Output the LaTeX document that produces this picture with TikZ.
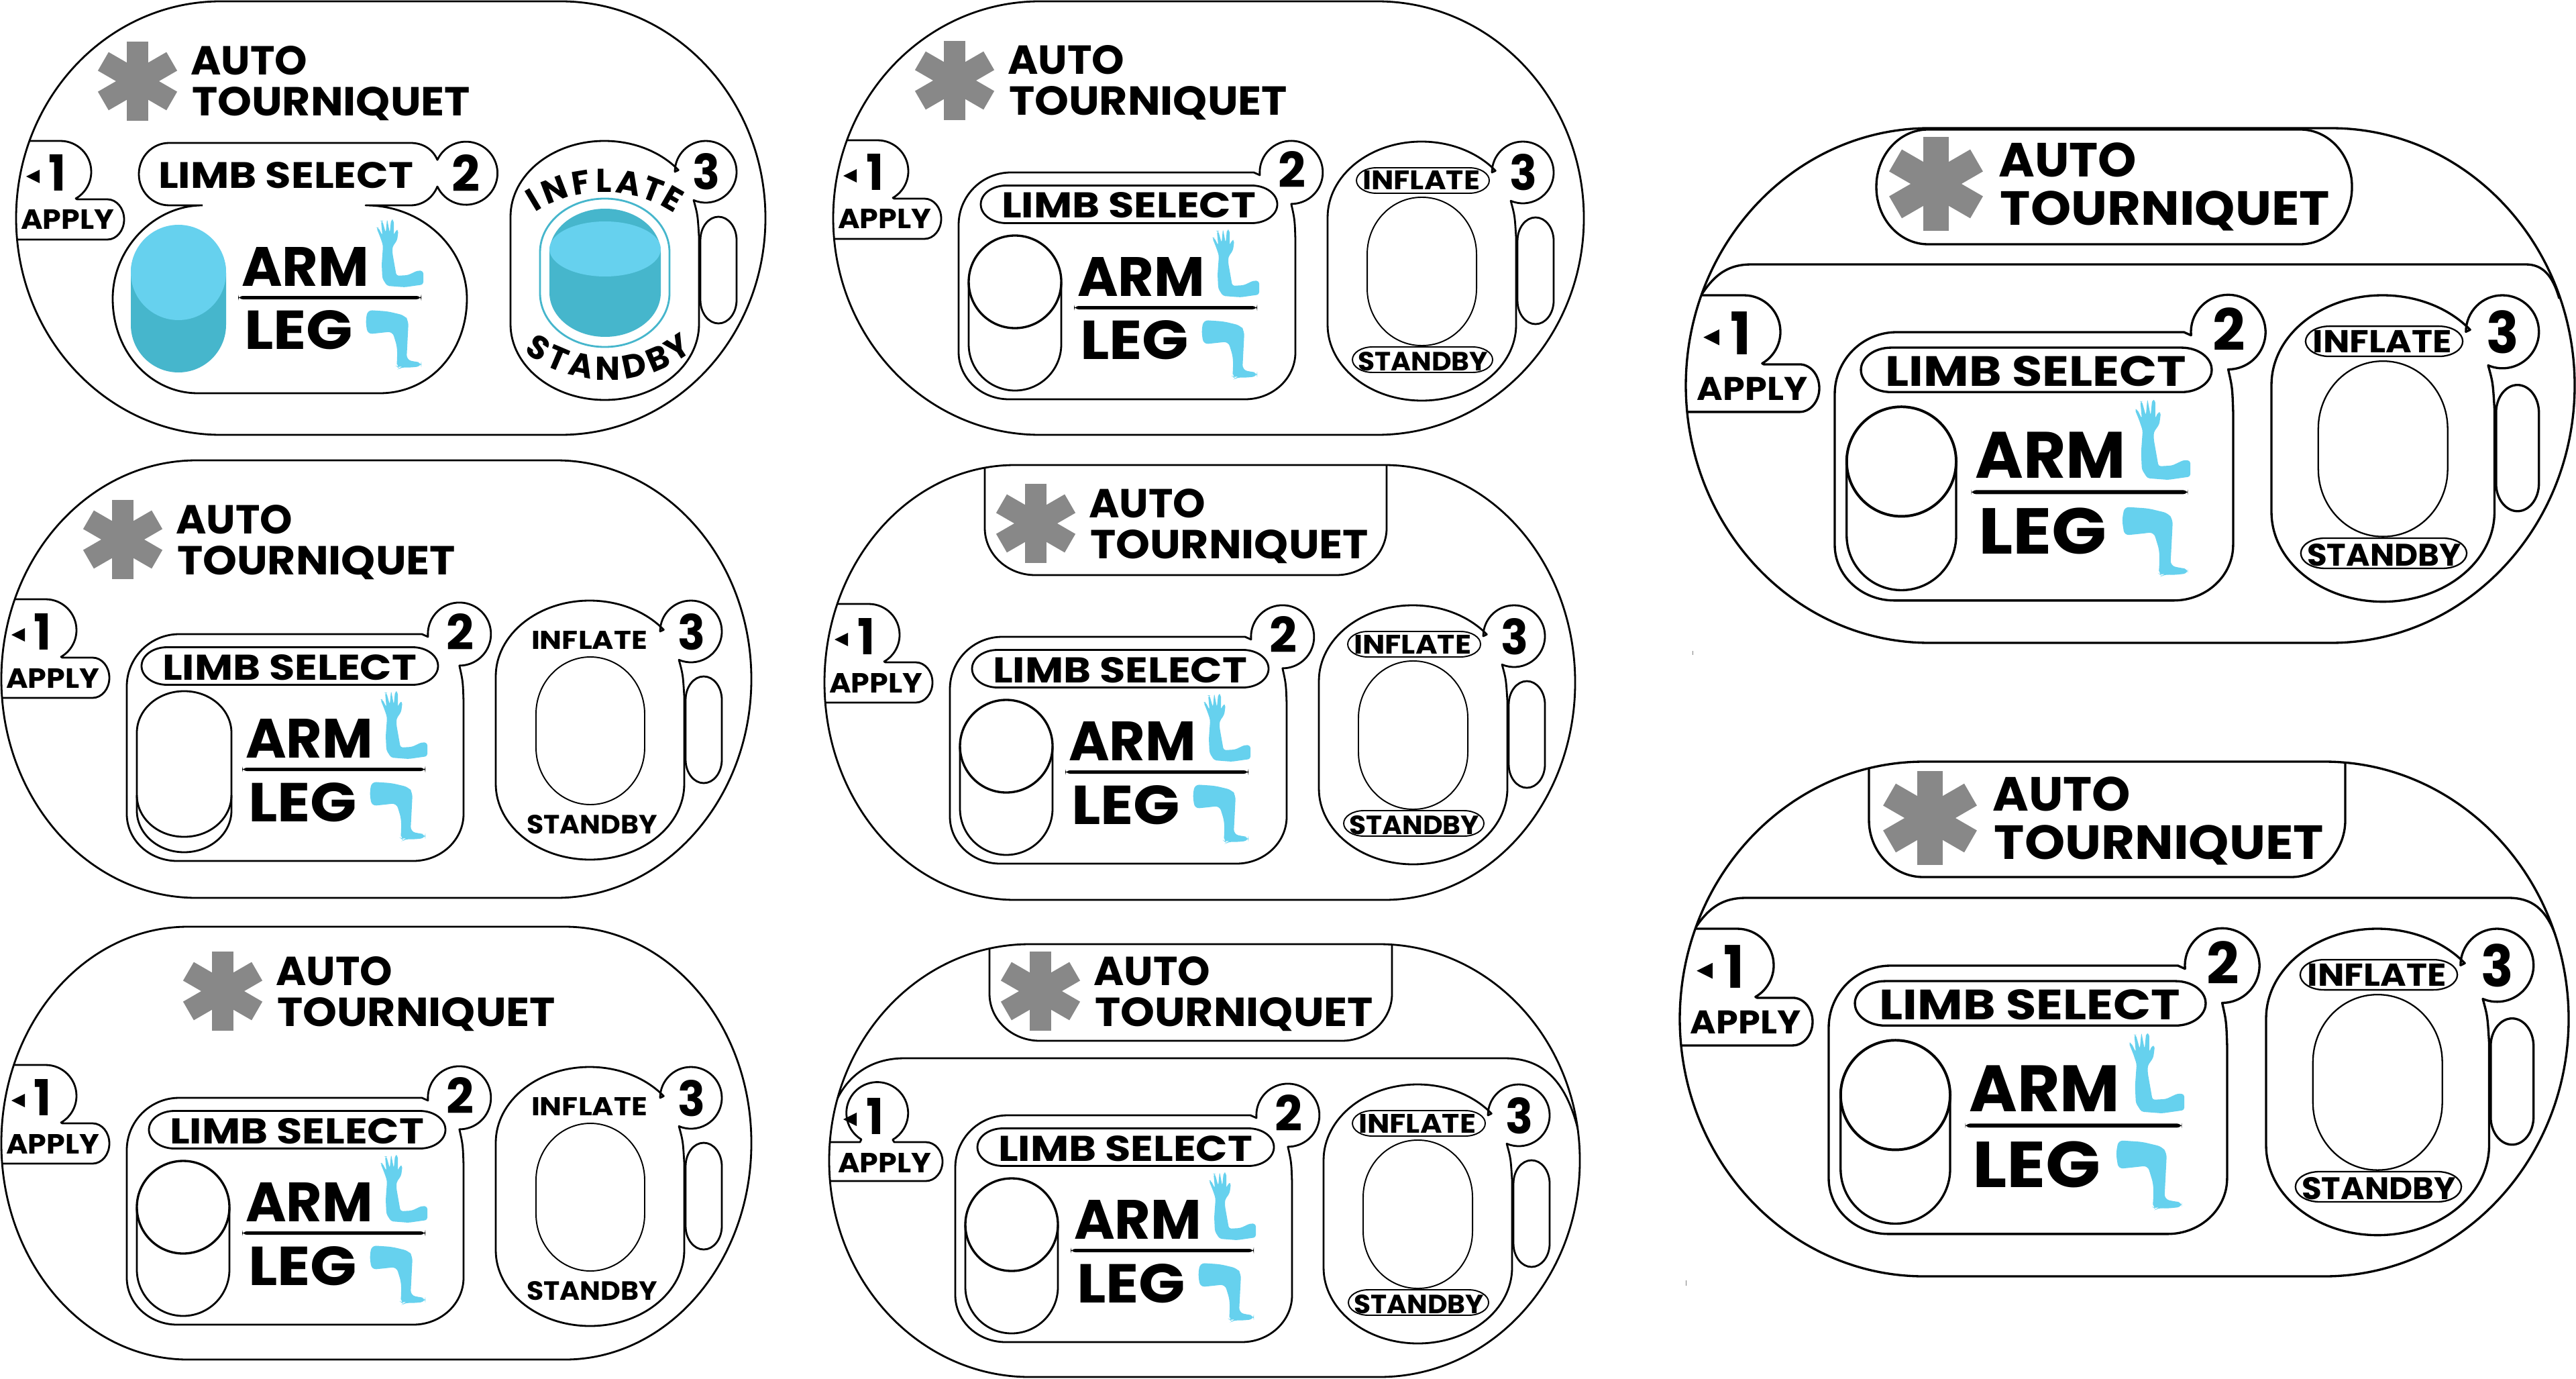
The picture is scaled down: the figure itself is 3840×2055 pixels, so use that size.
\documentclass[tikz,border=0pt]{standalone}
\usepackage{graphicx}
\usepackage{fontspec}
\setmainfont{Poppins}
\definecolor{limblight}{HTML}{66D1EE}
\definecolor{limbdark}{HTML}{46B6CC}
\definecolor{stargray}{HTML}{888888}
\tikzset{
  mainline/.style={line width=\ps*0.8pt,black,line join=round},
  thumbline/.style={line width=\ps*0.95pt,black},
  thinline/.style={line width=\ps*0.55pt,black},
  lbltext/.style={anchor=base west,inner sep=0pt,outer sep=0pt,font=\bfseries},
  curvetext/.style={inner sep=0pt,outer sep=0pt,font=\fontsize{14}{15}\bfseries}
}
% rounded box: x0 y0 x1 y1 rx ry
\newcommand{\rr}[6]{({#1+#5},#2) -- ({#3-#5},#2)
  arc[start angle=-90,end angle=0,x radius=#5,y radius=#6] -- (#3,{#4-#6})
  arc[start angle=0,end angle=90,x radius=#5,y radius=#6] -- ({#1+#5},#4)
  arc[start angle=90,end angle=180,x radius=#5,y radius=#6] -- (#1,{#2+#6})
  arc[start angle=180,end angle=270,x radius=#5,y radius=#6] -- cycle}
% name x baseline width capheight text
\newcommand{\lbl}[6]{%
  \pgfmathsetlengthmacro{\lblw}{#4*\ps*0.01cm}%
  \pgfmathsetlengthmacro{\lblh}{#5*\ps*0.01cm}%
  \node[lbltext] (\pid-#1) at (#2,#3) {\resizebox{\lblw}{\lblh}{#6}};}
\newcommand{\logo}[2]{
  \begin{scope}[shift={(#1,#2)},scale=\ps]
    \foreach \aa in {90,30,-30}
      \fill[stargray,rotate=\aa] (-59,-16) rectangle (59,16);
    \lbl{auto}{79}{-9}{174}{43}{AUTO}
    \lbl{tourniquet}{81}{52}{415}{43}{TOURNIQUET}
  \end{scope}}
\newcommand{\logotab}[5]{
  \begin{scope}
    \clip \outer;
    \draw[mainline] (#1,{#3-300}) -- (#1,{#3-#5})
      arc[start angle=180,end angle=90,x radius=#4,y radius=#5] -- ({#2-#4},#3)
      arc[start angle=90,end angle=0,x radius=#4,y radius=#5] -- (#2,{#3-300});
  \end{scope}}
\newcommand{\applytext}{
  \fill (-97,53) -- (-77,43) -- (-77,63) -- cycle;
  \lbl{one}{-63}{75}{26}{54}{1}
  \lbl{apply}{-105}{132}{139}{29}{APPLY}}
\newcommand{\applytab}[2]{
  \begin{scope}
    \clip \outer;
    \begin{scope}[shift={(#1,#2)},scale=\ps]
      \draw[mainline] (-200,0) -- (-46,0)
        arc[start angle=-90,end angle=60,radius=46] -- (-21,87) -- (24,87)
        arc[start angle=-90,end angle=90,x radius=25,y radius=30] -- (-200,147);
    \end{scope}
  \end{scope}
  \begin{scope}[shift={(#1,#2)},scale=\ps]
    \applytext
  \end{scope}}
\newcommand{\armleg}{
  \lbl{arm}{177}{184}{190}{58}{ARM}
  \fill[rounded corners=2] (172,199) rectangle (445,204);
  \lbl{leg}{181}{279}{162}{58}{LEG}
  \fill[limblight,rounded corners=1] (378,97) -- (384,112) -- (388,124) -- (386,152) -- (387,173)
    -- (394,184) -- (420,186) -- (448,182) -- (448,162) -- (440,161) -- (425,168) -- (408,169)
    -- (402,135) -- (402,126) -- (409,116) -- (411,101) -- (407,101) -- (404,109) -- (404,86)
    -- (400,85) -- (398,105) -- (394,84) -- (392,105) -- (387,87) -- (385,87) -- (387,109)
    -- (381,97) -- cycle;
  \fill[limblight,rounded corners=2] (365,220) -- (395,222) -- (420,228) -- (426,236) -- (424,275)
    -- (423,294) -- (435,297) -- (445,298) -- (445,304) -- (425,306) -- (415,305) -- (412,307)
    -- (408,304) -- (409,296) -- (409,275) -- (402,252) -- (385,254) -- (365,256) -- (362,237)
    -- cycle;}
\newcommand{\togglebase}{
  \draw[mainline] (15,163) -- (15,256) arc[start angle=180,end angle=0,radius=69] -- (153,163);
  \draw[thumbline] (84,163) circle[radius=69];}
\newcommand{\limbbox}[3]{
  \begin{scope}[shift={(#1,#2)},scale=\ps]
    \draw[mainline] (0,78) arc[start angle=180,end angle=270,radius=78] -- (440,0) -- (449,4)
      arc[start angle=175,end angle=450,radius=47] .. controls (501,70) .. (502,100)
      -- (502,268) arc[start angle=0,end angle=90,x radius=75,y radius=70] -- (75,338)
      arc[start angle=90,end angle=180,x radius=75,y radius=70] -- cycle;
    \draw[mainline] \rr{33+\pillx}{19.5}{475+\pillx}{75.5}{38}{28};
    \lbl{limb}{64+\pillx}{68}{379}{38}{LIMB SELECT}
    \lbl{two}{476}{23}{41}{54}{2}
    \armleg
    #3
  \end{scope}}
\newcommand{\inflateshape}[3]{
  \begin{scope}[shift={(#1,#2)},scale=\ps]
    \draw[mainline] (0,113) arc[start angle=180,end angle=270,x radius=140,y radius=113]
      arc[start angle=-90,end angle=-38,x radius=140,y radius=113] -- (245,46)
      arc[start angle=180,end angle=473,radius=46] .. controls (279,110) .. (281,143) -- (281,273)
      arc[start angle=0,end angle=90,x radius=140.5,y radius=113]
      arc[start angle=90,end angle=180,x radius=140.5,y radius=113] -- cycle;
    \draw[mainline] \rr{283}{113}{337}{272}{27}{35};
    \lbl{three}{271}{73}{41}{54}{3}
    #3
  \end{scope}}
\newcommand{\taggedtexts}{
  \draw[thinline] \rr{59}{83}{222}{304}{81}{85};
  \draw[thinline] \rr{43}{39}{241}{77}{30}{19};
  \lbl{inflate}{52}{72}{175}{28}{INFLATE}
  \draw[thinline] \rr{37}{306}{246}{344}{30}{19};
  \lbl{standby}{45}{341}{194}{28}{STANDBY}}
\newcommand{\plaintexts}{
  \draw[thinline] \rr{60}{84}{222}{304}{81}{85};
  \lbl{inflate}{53}{72}{173}{27}{INFLATE}
  \lbl{standby}{46}{347}{195}{28}{STANDBY}}
\def\pillx{0}
\def\ps{1}
\def\pid{x}
\begin{document}
\begin{tikzpicture}[x=0.01cm,y=0.01cm,yscale=-1]
  \useasboundingbox (0,0) rectangle (3840,2055);
  \fill[white] (0,0) rectangle (3840,2055);
  % top left, limb and inflate shown active
  \def\ps{1}\def\pid{a}
  \def\outer{\rr{24}{2}{1141}{648}{305}{323}}
  \draw[mainline] \outer;
  \logo{205}{121}
  \applytab{136}{210}
  \draw[mainline] (302,306) .. controls (230,306) and (168,370) .. (168,445)
    .. controls (168,525) and (225,586) .. (295,586) -- (566,586)
    .. controls (640,586) and (696,525) .. (696,445)
    .. controls (696,370) and (630,306) .. (545,306) -- (612,306)
    .. controls (630,306) and (645,295) .. (652,278)
    arc[start angle=155,end angle=-155,radius=47]
    .. controls (645,222) and (630,213) .. (612,213) -- (252,213)
    arc[start angle=-90,end angle=-270,x radius=45,y radius=46.5] -- (302,306);
  \lbl{limb}{236}{281}{380}{39}{LIMB SELECT}
  \lbl{two}{673}{286}{42}{55}{2}
  \fill[limbdark] \rr{195}{336}{337}{555}{71}{71};
  \fill[limblight] (266,406) circle[radius=71];
  \begin{scope}[shift={(183,242)}]
    \armleg
  \end{scope}
  \inflateshape{761}{210}{
    \draw[limbdark,line width=0.8pt] \rr{44}{86}{237}{307}{96}{80};
    \fill[limbdark] \rr{58}{101}{224}{292}{83}{66};
    \fill[limblight] (141,161) ellipse[x radius=83,y radius=41];
    \foreach \ch/\aa in {I/-31,N/-21,F/-9.5,L/0,A/10.5,T/21,E/30}
      \node[curvetext,rotate=-\aa] (inf-\ch) at ({139+205*sin(\aa)},{264-205*cos(\aa)}) {\ch};
    \foreach \ch/\aa in {S/-33,T/-23,A/-12,N/0,D/12,B/23,Y/33}
      \node[curvetext,rotate=\aa] (stb-\ch) at ({145+190*sin(\aa)},{149+190*cos(\aa)}) {\ch};
  }
  % top middle
  \def\pid{b}
  \def\outer{\rr{1242}{2}{2361}{648}{308}{323}}
  \draw[mainline] \outer;
  \logo{1423}{120}
  \applytab{1354}{209}
  \limbbox{1429}{257}{\togglebase}
  \inflateshape{1979}{211}{\taggedtexts}
  % middle left
  \def\pid{c}
  \def\outer{\rr{2}{686}{1120}{1338}{291}{326}}
  \draw[mainline] \outer;
  \logo{183}{804}
  \applytab{114}{893}
  \def\pillx{-11}
  \limbbox{189}{945}{
    \draw[mainline] (15,240) -- (15,263) arc[start angle=180,end angle=0,x radius=70.5,y radius=62] -- (156,240);
    \draw[mainline] \rr{15}{85}{156}{302}{70}{62};
  }
  \def\pillx{0}
  \inflateshape{739}{895}{\plaintexts}
  % middle middle
  \def\pid{d}
  \def\outer{\rr{1229}{693}{2348}{1341}{284}{324}}
  \draw[mainline] \outer;
  \logotab{1468}{2067}{857}{75}{70}
  \logo{1544}{780}
  \applytab{1341}{900}
  \limbbox{1416}{949}{\togglebase}
  \inflateshape{1966}{902}{\taggedtexts}
  % bottom left
  \def\pid{e}
  \def\outer{\rr{2}{1381}{1120}{2026}{278}{322}}
  \draw[mainline] \outer;
  \logo{332}{1477}
  \applytab{114}{1587}
  \limbbox{189}{1636}{\togglebase}
  \inflateshape{739}{1590}{\plaintexts}
  % bottom middle, apply number drawn as an oval
  \def\pid{f}
  \def\outer{\rr{1236}{1407}{2355}{2052}{299}{322}}
  \draw[mainline] \outer;
  \logotab{1475}{2075}{1551}{75}{70}
  \logo{1551}{1477}
  \begin{scope}
    \clip \outer;
    \draw[mainline] (1232,1690) .. controls (1244,1612) and (1290,1577) .. (1348,1577) -- (2243,1577)
      .. controls (2300,1577) and (2338,1610) .. (2356,1700);
    \begin{scope}[shift={(1354,1615)}]
      \draw[mainline] (-200,87) -- (-72,87) -- (-70,83)
        arc[start angle=121,end angle=420,radius=46] -- (-21,87) -- (26,87)
        arc[start angle=-90,end angle=90,x radius=25,y radius=29] -- (-200,145);
    \end{scope}
  \end{scope}
  \begin{scope}[shift={(1354,1615)}]
    \applytext
  \end{scope}
  \limbbox{1424}{1662}{\togglebase}
  \inflateshape{1973}{1616}{\taggedtexts}
  % right top
  \def\ps{1.183}\def\pid{g}
  \def\outer{\rr{2513}{191}{3838}{958}{363}{384}}
  \draw[mainline] \outer;
  \draw[mainline] \rr{2797}{193}{3506}{364}{77}{85};
  \logo{2886}{274}
  \begin{scope}
    \clip \outer;
    \draw[mainline] (2530,450) .. controls (2555,405) and (2580,394) .. (2611,394) -- (3765,394)
      .. controls (3790,394) and (3805,410) .. (3815,445);
  \end{scope}
  \applytab{2654}{440}
  \limbbox{2735}{495}{\togglebase}
  \inflateshape{3386}{440}{\taggedtexts}
  \draw[gray,line width=0.2pt] (2523,970) -- (2523,976);
  % right bottom
  \def\pid{h}
  \def\outer{\rr{2504}{1135}{3829}{1902}{364}{384}}
  \draw[mainline] \outer;
  \logotab{2786}{3496}{1307}{81}{85}
  \logo{2877}{1219}
  \begin{scope}
    \clip \outer;
    \draw[mainline] (2520,1395) .. controls (2545,1350) and (2570,1338) .. (2603,1338) -- (3739,1338)
      .. controls (3775,1338) and (3795,1355) .. (3810,1395);
  \end{scope}
  \applytab{2644}{1384}
  \limbbox{2726}{1439}{\togglebase}
  \inflateshape{3378}{1384}{\taggedtexts}
  \draw[gray,line width=0.2pt] (2513,1908) -- (2513,1916);
\end{tikzpicture}
\end{document}
